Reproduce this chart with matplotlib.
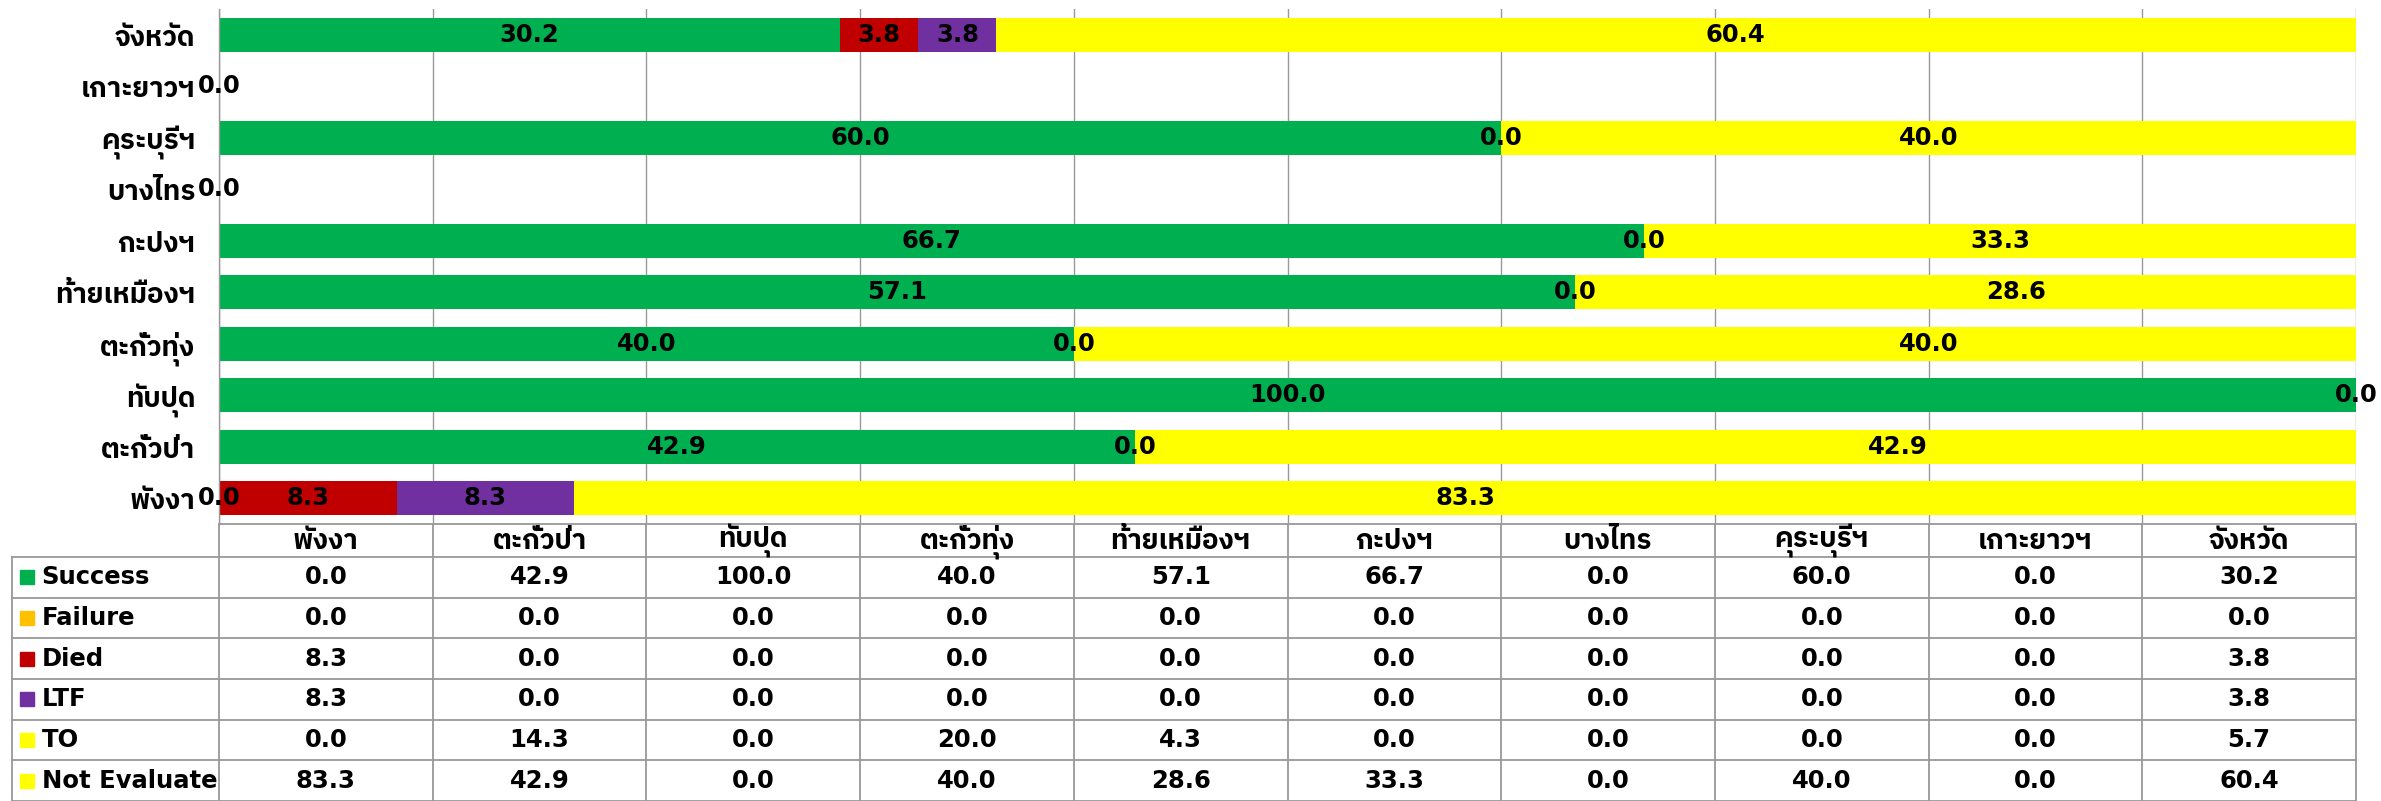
import numpy as np
import matplotlib
matplotlib.use("Agg")
import matplotlib.pyplot as plt
from matplotlib import font_manager
from matplotlib import patheffects
from matplotlib.ft2font import FT2Font
from matplotlib.patches import Rectangle

# Data (bottom to top in the chart, left to right in the table)
districts = ["พังงา", "ตะกั่วป่า", "ทับปุด", "ตะกั่วทุ่ง", "ท้ายเหมืองฯ",
             "กะปงฯ", "บางไทร", "คุระบุรีฯ", "เกาะยาวฯ", "จังหวัด"]
success = [0.0, 42.9, 100.0, 40.0, 57.1, 66.7, 0.0, 60.0, 0.0, 30.2]
failure = [0.0, 0.0, 0.0, 0.0, 0.0, 0.0, 0.0, 0.0, 0.0, 0.0]
died = [8.3, 0.0, 0.0, 0.0, 0.0, 0.0, 0.0, 0.0, 0.0, 3.8]
ltf = [8.3, 0.0, 0.0, 0.0, 0.0, 0.0, 0.0, 0.0, 0.0, 3.8]
to = [0.0, 14.3, 0.0, 20.0, 4.3, 0.0, 0.0, 0.0, 0.0, 5.7]
not_evaluate = [83.3, 42.9, 0.0, 40.0, 28.6, 33.3, 0.0, 40.0, 0.0, 60.4]

series_names = ["Success", "Failure", "Died", "LTF", "TO", "Not Evaluate"]
series_colors = ["#00B050", "#FFC000", "#C00000", "#7030A0", "#FFFF00", "#FFFF00"]


def is_bold(w):
    if isinstance(w, str):
        return "bold" in w.lower() or w.lower() in ("heavy", "black")
    return w >= 600


# look for an installed font that has Thai glyphs, preferably with a bold face
def find_thai_font():
    fams = {}
    for f in font_manager.fontManager.ttflist:
        try:
            cmap = FT2Font(f.fname).get_charmap()
        except Exception:
            continue
        if 0x0E08 in cmap and 0x0E31 in cmap:
            fams.setdefault(f.name, False)
            if is_bold(f.weight):
                fams[f.name] = True
    if not fams:
        return None, False
    ranked = sorted(fams.items(), key=lambda kv: (not kv[1], "Thai" not in kv[0]))
    return ranked[0]


thai, thai_bold = find_thai_font()
families = ["DejaVu Sans"] + ([thai] if thai else [])
plt.rcParams["font.family"] = families
plt.rcParams["font.weight"] = "bold"
FS = 17.5
FS_TH = 20
thai_fx = [] if thai_bold else [patheffects.withStroke(linewidth=1.1, foreground="black")]

W, H = 2381, 801
fig = plt.figure(figsize=(W / 100, H / 100), dpi=100)
ax = fig.add_axes([219 / W, 1 - 524 / H, (2356 - 219) / W, (524 - 9) / H])

data = np.array([success, failure, died, ltf, to, not_evaluate])
totals = data.sum(axis=0)
share = np.divide(data * 100, totals, out=np.zeros_like(data), where=totals > 0)
y = np.arange(len(districts))
left = np.zeros(len(districts))


def show_label(k, i):
    if k == 4:
        return False
    if k == 0:
        return True
    if k == 1:
        return success[i] > 0 and died[i] == 0 and ltf[i] == 0
    return data[k][i] > 0


for k in range(len(series_names)):
    ax.barh(y, share[k], left=left, height=0.66, color=series_colors[k],
            edgecolor="none", zorder=2)
    for i in range(len(districts)):
        if show_label(k, i):
            ax.text(left[i] + share[k][i] / 2, y[i], f"{data[k][i]:.1f}",
                    ha="center", va="center", fontsize=FS, fontweight="bold",
                    color="black", zorder=4)
    left += share[k]

ax.set_xlim(0, 100)
ax.set_ylim(-0.5, len(districts) - 0.5)
ax.set_xticks(np.arange(0, 101, 10))
ax.set_xticklabels([])
ax.tick_params(axis="x", length=0)
ax.grid(axis="x", color="#999999", linewidth=1.0)
ax.set_axisbelow(True)
ax.set_yticks(y)
ax.set_yticklabels(districts, fontsize=FS_TH, fontweight="bold")
for lab in ax.get_yticklabels():
    lab.set_path_effects(thai_fx)
ax.tick_params(axis="y", length=0, pad=17)
for s in ["top", "right", "bottom"]:
    ax.spines[s].set_visible(False)
ax.spines["left"].set_color("#999999")
ax.spines["left"].set_linewidth(1.0)

# Data table underneath
tax = fig.add_axes([219 / W, 0, (2356 - 219) / W, (H - 524) / H])
tax.set_xlim(0, 100)
tax.set_ylim(H, 524)
tax.axis("off")

line_kw = dict(color="#999999", linewidth=1.3, clip_on=False)
x_left = (11.5 - 219) / (2356 - 219) * 100
header_bottom = 557
row_h = (H - header_bottom) / 6
row_edges = [header_bottom + r * row_h for r in range(7)]

tax.plot([0, 100], [524, 524], **line_kw)
for ye in row_edges:
    tax.plot([x_left, 100], [ye, ye], **line_kw)
tax.plot([x_left, x_left], [header_bottom, H], **line_kw)
for xc in range(0, 101, 10):
    tax.plot([xc, xc], [524, H], **line_kw)

for j, name in enumerate(districts):
    tax.text(j * 10 + 5, (524 + header_bottom) / 2 + 1, name, ha="center",
             va="center", fontsize=FS_TH, fontweight="bold", path_effects=thai_fx)

px = 100 / (2356 - 219)
for r, name in enumerate(series_names):
    yc = row_edges[r] + row_h / 2
    tax.add_patch(Rectangle((x_left + 8.5 * px, yc - 7), 14 * px, 14,
                            color=series_colors[r], clip_on=False))
    tax.text(x_left + 30 * px, yc, name, ha="left", va="center",
             fontsize=FS, fontweight="bold")
    for j in range(len(districts)):
        tax.text(j * 10 + 5, yc, f"{data[r][j]:.1f}", ha="center",
                 va="center", fontsize=FS, fontweight="bold")

fig.savefig("out.png", dpi=100)
